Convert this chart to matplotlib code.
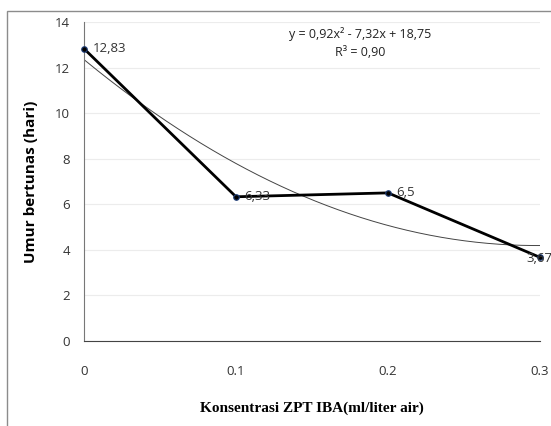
import matplotlib.pyplot as plt
import numpy as np

# Konsentrasi ZPT IBA vs umur bertunas
konsentrasi = [0, 0.1, 0.2, 0.3]
umur = [12.83, 6.33, 6.5, 3.67]
label_umur = ['12,83', '6,33', '6,5', '3,67']
x_ticks = [0, 0.1, 0.2, 0.3]
x_tick_labels = ['0', '0.1', '0.2', '0.3']
y_ticks = [0, 2, 4, 6, 8, 10, 12, 14]

# polynomial trend (Excel uses point index 1..n as x)
koef = [0.92, -7.32, 18.75]
persamaan = 'y = 0,92x² - 7,32x + 18,75'
r_teks = 'R³ = 0,90'

fig = plt.figure(figsize=(5.51, 4.26), dpi=100)
ax = fig.add_axes([84 / 551, 1 - 341 / 426, (540 - 84) / 551, (341 - 22) / 426])

# outer chart border
fig.patches.append(plt.Rectangle((7 / 551, -0.1), 1.2, 1 - 11 / 426 + 0.1,
                                 transform=fig.transFigure, fill=False,
                                 edgecolor='#8c8c8c', linewidth=1.0))

tick_font = {'family': 'Open Sans', 'size': 9.5, 'color': '#333333'}

# trend line
xs = np.linspace(0, 0.3, 200)
idx = 1 + xs / 0.1
ax.plot(xs, np.polyval(koef, idx), color='#444444', linewidth=0.7, zorder=2)

# data line
ax.plot(konsentrasi, umur, color='black', linewidth=2.0, zorder=3)
ax.plot(konsentrasi, umur, linestyle='none', marker='o', markersize=4,
        markerfacecolor='black', markeredgecolor='#1f3f7a', markeredgewidth=0.8,
        zorder=4, clip_on=False)

# last label is pushed back inside the chart edge
offsets = [(6, 0), (6, 0), (6, 0), (-10, -1)]
for x, y, t, off in zip(konsentrasi, umur, label_umur, offsets):
    ax.annotate(t, (x, y), xytext=off, textcoords='offset points',
                ha='left', va='center', annotation_clip=False, zorder=5,
                **tick_font)

ax.text(0.605, 0.985, persamaan, transform=ax.transAxes, ha='center', va='top',
        fontfamily='Open Sans', fontsize=9, color='#222222')
ax.text(0.605, 0.925, r_teks, transform=ax.transAxes, ha='center', va='top',
        fontfamily='Open Sans', fontsize=9, color='#222222')

ax.set_xlim(0, 0.3)
ax.set_ylim(0, 14)
ax.set_xticks(x_ticks)
ax.set_xticklabels(x_tick_labels, **tick_font)
ax.set_yticks(y_ticks)
ax.set_yticklabels([str(v) for v in y_ticks], **tick_font)
ax.tick_params(length=0)
ax.tick_params(axis='x', pad=17)
ax.tick_params(axis='y', pad=10)

ax.grid(True, axis='y', color='#ececec', linewidth=0.8)
ax.set_axisbelow(True)
for s in ['top', 'right']:
    ax.spines[s].set_visible(False)
ax.spines['left'].set_color('#777777')
ax.spines['bottom'].set_color('#444444')

ax.set_ylabel('Umur bertunas (hari)', fontfamily='Open Sans', fontweight='bold',
              fontsize=11, color='black', labelpad=12)
ax.set_xlabel('Konsentrasi ZPT IBA(ml/liter air)', fontfamily='Liberation Serif',
              fontweight='bold', fontsize=11, color='black', labelpad=17)

plt.savefig('out.png', dpi=100)
